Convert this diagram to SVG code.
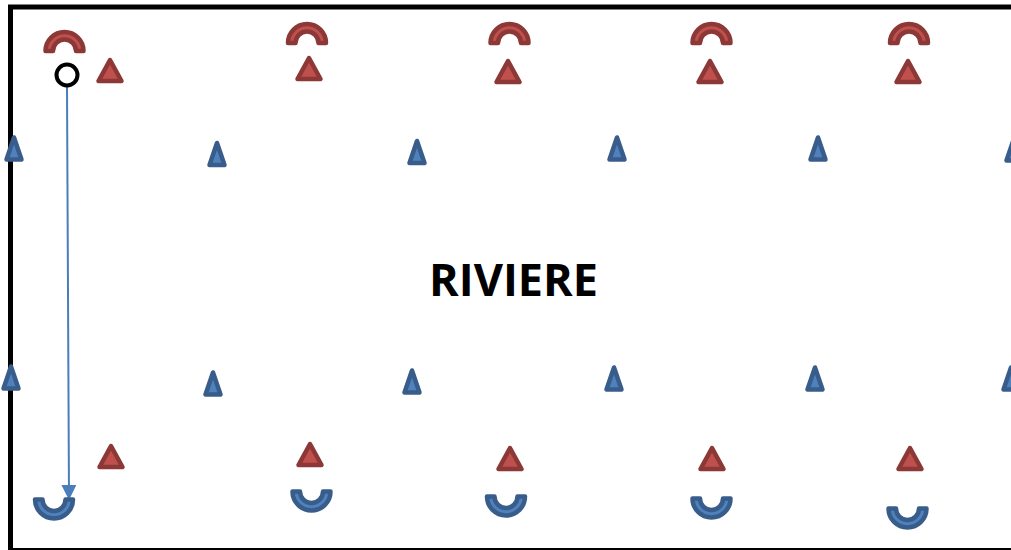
<svg xmlns="http://www.w3.org/2000/svg" xmlns:xlink="http://www.w3.org/1999/xlink" width="1011" height="550" viewBox="0 0 1011 550">
<style>
.red{fill:#C0504D;stroke:#8C3836;stroke-width:4.5;stroke-linejoin:round}
.blue{fill:#4F81BD;stroke:#385D8A;stroke-width:4.5;stroke-linejoin:round}
.title{font-family:"Open Sans","Liberation Sans",sans-serif;font-weight:bold;font-size:45px;fill:#000}
</style>
<defs>
<path id="dome" d="M -19 0 A 19 19 0 0 1 19 0 L 11.5 0 A 11.5 11.5 0 0 0 -11.5 0 Z"/>
<path id="cup" d="M -19 0 A 19 19 0 0 0 19 0 L 11.5 0 A 11.5 11.5 0 0 1 -11.5 0 Z"/>
<path id="rtri" d="M 0 -11 L 11.5 10 L -11.5 10 Z"/>
<path id="btri" d="M 0 -11.5 L 7.5 10.5 L -7.5 10.5 Z"/>
<marker id="ah" viewBox="0 0 10 10" refX="10" refY="5" markerWidth="15" markerHeight="15" markerUnits="userSpaceOnUse" orient="auto">
<path d="M0 0 L10 5 L0 10 Z" fill="#4A7EBB"/>
</marker>
</defs>
<rect x="0" y="0" width="1011" height="550" fill="#fff"/>
<rect id="field" x="10.5" y="7" width="1010" height="543.5" fill="none" stroke="#000" stroke-width="5"/>
<text class="title" x="513.5" y="296" text-anchor="middle">RIVIERE</text>
<g id="connectors">
<line x1="67" y1="87" x2="69" y2="500" stroke="#4A7EBB" stroke-width="2" marker-end="url(#ah)"/>
</g>
<g id="start"><circle cx="67" cy="75" r="10.5" fill="#fff" stroke="#000" stroke-width="4"/></g>
<g id="domes">
<use xlink:href="#dome" class="red" transform="translate(64.5,51)"/>
<use xlink:href="#dome" class="red" transform="translate(307,43)"/>
<use xlink:href="#dome" class="red" transform="translate(509.5,43)"/>
<use xlink:href="#dome" class="red" transform="translate(711.5,43)"/>
<use xlink:href="#dome" class="red" transform="translate(909,43)"/>
</g>
<g id="red-top">
<use xlink:href="#rtri" class="red" transform="translate(110,71)"/>
<use xlink:href="#rtri" class="red" transform="translate(309,69)"/>
<use xlink:href="#rtri" class="red" transform="translate(508,72)"/>
<use xlink:href="#rtri" class="red" transform="translate(710,72)"/>
<use xlink:href="#rtri" class="red" transform="translate(908,72)"/>
</g>
<g id="blue-row1">
<use xlink:href="#btri" class="blue" transform="translate(14,149)"/>
<use xlink:href="#btri" class="blue" transform="translate(217,154.5)"/>
<use xlink:href="#btri" class="blue" transform="translate(417,152.5)"/>
<use xlink:href="#btri" class="blue" transform="translate(617,149)"/>
<use xlink:href="#btri" class="blue" transform="translate(818,149)"/>
<use xlink:href="#btri" class="blue" transform="translate(1014,150)"/>
</g>
<g id="blue-row2">
<use xlink:href="#btri" class="blue" transform="translate(11,378)"/>
<use xlink:href="#btri" class="blue" transform="translate(213,384)"/>
<use xlink:href="#btri" class="blue" transform="translate(412,382)"/>
<use xlink:href="#btri" class="blue" transform="translate(614,379)"/>
<use xlink:href="#btri" class="blue" transform="translate(815,379)"/>
<use xlink:href="#btri" class="blue" transform="translate(1011,379)"/>
</g>
<g id="red-bottom">
<use xlink:href="#rtri" class="red" transform="translate(111,457)"/>
<use xlink:href="#rtri" class="red" transform="translate(310,455)"/>
<use xlink:href="#rtri" class="red" transform="translate(510,459)"/>
<use xlink:href="#rtri" class="red" transform="translate(712,459)"/>
<use xlink:href="#rtri" class="red" transform="translate(910,459)"/>
</g>
<g id="cups">
<use xlink:href="#cup" class="blue" transform="translate(54,499.5)"/>
<use xlink:href="#cup" class="blue" transform="translate(311.5,491.5)"/>
<use xlink:href="#cup" class="blue" transform="translate(506,496.5)"/>
<use xlink:href="#cup" class="blue" transform="translate(711.5,498.5)"/>
<use xlink:href="#cup" class="blue" transform="translate(907.5,508.5)"/>
</g>
</svg>
